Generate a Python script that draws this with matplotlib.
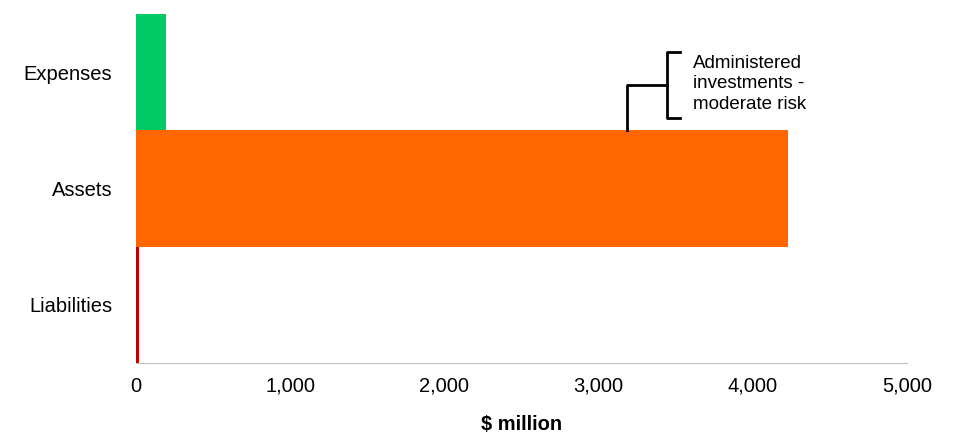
import matplotlib
matplotlib.use("Agg")
import matplotlib.pyplot as plt

plt.rcParams['font.family'] = ['Liberation Sans', 'DejaVu Sans']

# valeurs ($ million)
categories = ["Liabilities", "Assets", "Expenses"]
valeurs = [20, 4228, 195]
couleurs = ["#C00000", "#FF6600", "#00C864"]
ticks_x = [0, 1000, 2000, 3000, 4000, 5000]

fig = plt.figure(figsize=(9.56, 4.47), dpi=100)
ax = fig.add_axes([0.1423, 0.1879, 0.8064, 0.7808])

ax.barh(categories, valeurs, height=1.0, color=couleurs, linewidth=0)

ax.set_xlim(0, 5000)
ax.set_ylim(-0.5, 2.5)
ax.set_xticks(ticks_x)
ax.set_xticklabels([f"{t:,}" for t in ticks_x], fontsize=14.5)
ax.tick_params(axis="x", length=0, pad=10)
ax.tick_params(axis="y", length=0, pad=17, labelsize=14.5)
for s in ["top", "right", "left"]:
    ax.spines[s].set_visible(False)
ax.spines["bottom"].set_color("#BFBFBF")
ax.set_xlabel("$ million", fontsize=14.5, fontweight="bold", labelpad=14)

# accolade de l'annotation
ax.plot([3184, 3184, 3444], [1.5, 1.89, 1.89], color="black", lw=2, clip_on=False)
ax.plot([3528, 3444, 3444, 3528], [2.17, 2.17, 1.61, 1.61], color="black", lw=2, clip_on=False)
ax.text(3612, 2.15, "Administered\ninvestments -\nmoderate risk", fontsize=13.5,
        va="top", ha="left", linespacing=1.28)

fig.savefig("out.png", dpi=100)
